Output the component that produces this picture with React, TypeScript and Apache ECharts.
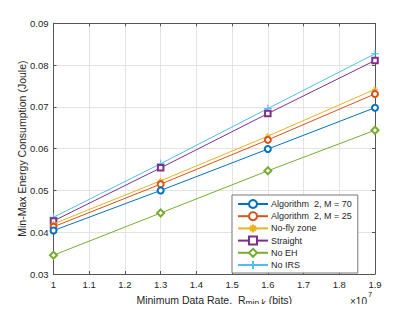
import React, { useEffect, useRef } from "react";
import * as echarts from "echarts";

const xValues = [1, 1.3, 1.6, 1.9];
const seriesNames = [
  "Algorithm  2, M = 70",
  "Algorithm  2, M = 25",
  "No-fly zone",
  "Straight",
  "No EH",
  "No IRS",
];
const alg70 = [0.0404, 0.05, 0.0599, 0.0698];
const alg25 = [0.0413, 0.0515, 0.0621, 0.0731];
const noFly = [0.042, 0.0523, 0.063, 0.0742];
const straight = [0.0427, 0.0554, 0.0684, 0.0811];
const noEH = [0.0345, 0.0446, 0.0547, 0.0644];
const noIRS = [0.0436, 0.0564, 0.0696, 0.0827];
const seriesData = [alg70, alg25, noFly, straight, noEH, noIRS];
const colors = ["#0072BD", "#D95319", "#EDB120", "#7E2F8E", "#77AC30", "#4DBEEE"];
const symbols = [
  "emptyCircle",
  "emptyCircle",
  "path://M5,0L5,10M0,5L10,5M1.6,1.6L8.4,8.4M8.4,1.6L1.6,8.4",
  "emptyRect",
  "emptyDiamond",
  "path://M5,0L5,10M0,5L10,5",
];
const symbolSizes = [6, 6, 6, 5.5, 7, 8];

const FONT = "'Liberation Sans', Arial, Helvetica, sans-serif";
const AXIS_COLOR = "#555";
const TEXT_COLOR = "#262626";

export default function App() {
  const ref = useRef<HTMLDivElement>(null);
  useEffect(() => {
    if (!ref.current) return;
    const chart = echarts.init(ref.current, undefined, { renderer: "svg" });
    const baseAxis = {
      axisLine: { show: true, onZero: false, lineStyle: { color: AXIS_COLOR, width: 1 } },
      axisTick: { show: true, inside: true, length: 3, lineStyle: { color: AXIS_COLOR } },
    };
    chart.setOption({
      animation: false,
      backgroundColor: "#fff",
      textStyle: { fontFamily: FONT },
      grid: { left: 53.5, right: 40, top: 23.3, bottom: 36.5, containLabel: false },
      xAxis: [
        {
          type: "value",
          min: 1,
          max: 1.9,
          interval: 0.1,
          ...baseAxis,
          axisLabel: {
            color: TEXT_COLOR,
            fontSize: 9.5,
            fontFamily: FONT,
            margin: 5,
            formatter: (v: number) => String(+v.toFixed(1)),
          },
          splitLine: { show: true, lineStyle: { color: "#e3e3e3", width: 1 } },
          name: "{n|Minimum Data Rate,  R}{s|min,k}{n| (bits)}",
          nameLocation: "middle",
          nameGap: 18,
          nameMoveOverlap: false,
          nameTextStyle: {
            rich: {
              n: { fontSize: 10.5, color: TEXT_COLOR, fontFamily: FONT, lineHeight: 15, verticalAlign: "middle" },
              s: { fontSize: 8.5, color: TEXT_COLOR, fontFamily: FONT, lineHeight: 15, verticalAlign: "bottom" },
            },
          },
        },
        {
          type: "value",
          position: "top",
          min: 1,
          max: 1.9,
          interval: 0.1,
          ...baseAxis,
          axisLabel: { show: false },
          splitLine: { show: false },
        },
      ],
      yAxis: [
        {
          type: "value",
          min: 0.03,
          max: 0.09,
          interval: 0.01,
          ...baseAxis,
          axisLabel: {
            color: TEXT_COLOR,
            fontSize: 9.5,
            fontFamily: FONT,
            margin: 5,
            formatter: (v: number) => v.toFixed(2),
          },
          splitLine: { show: true, lineStyle: { color: "#e3e3e3", width: 1 } },
          name: "Min-Max Energy Consumption (Joule)",
          nameLocation: "middle",
          nameGap: 26,
          nameMoveOverlap: false,
          nameTextStyle: { fontSize: 10.5, color: TEXT_COLOR, fontFamily: FONT },
        },
        {
          type: "value",
          position: "right",
          min: 0.03,
          max: 0.09,
          interval: 0.01,
          ...baseAxis,
          axisLabel: { show: false },
          splitLine: { show: false },
        },
      ],
      legend: {
        orient: "vertical",
        left: 232,
        top: 195,
        width: 122,
        padding: [4, 6, 3, 5],
        itemGap: 2.2,
        itemWidth: 30,
        itemHeight: 10,
        backgroundColor: "#fff",
        borderColor: "#777",
        borderWidth: 1,
        borderRadius: 0,
        textStyle: { fontSize: 9, color: TEXT_COLOR, fontFamily: FONT, padding: [0, 0, 0, -2] },
        data: seriesNames,
      },
      graphic: [
        {
          type: "text",
          left: 350,
          top: 296,
          style: { text: "×10", fontSize: 10, fill: TEXT_COLOR, fontFamily: FONT },
        },
        {
          type: "text",
          left: 368,
          top: 290,
          style: { text: "7", fontSize: 7.5, fill: TEXT_COLOR, fontFamily: FONT },
        },
      ],
      series: seriesNames.map((name, i) => ({
        name,
        type: "line",
        data: xValues.map((x, j) => [x, seriesData[i][j]]),
        symbol: symbols[i],
        symbolSize: symbolSizes[i],
        showSymbol: true,
        lineStyle: { color: colors[i], width: 1 },
        itemStyle: { color: colors[i], borderColor: colors[i], borderWidth: 1 },
        emphasis: { disabled: true },
        z: 10 - i,
      })),
    });
    return () => chart.dispose();
  }, []);
  return <div ref={ref} style={{ width: 415, height: 312, margin: -8 }} />;
}
